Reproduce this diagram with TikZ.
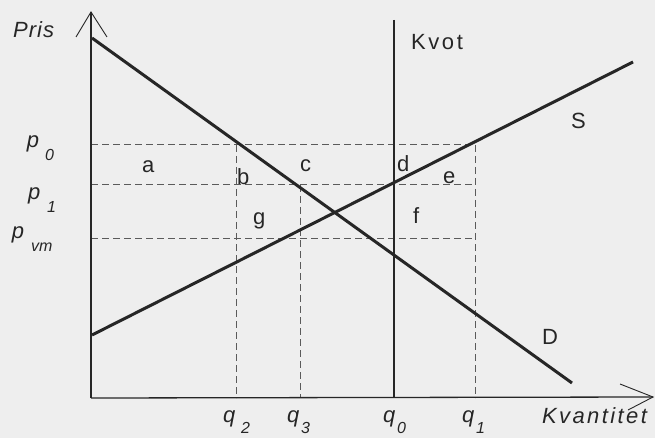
\documentclass[tikz,border=0pt]{standalone}
\usepackage{fontspec}
\setmainfont{Liberation Sans}
\definecolor{ink}{HTML}{262626}
\definecolor{dashc}{HTML}{5A5A5A}
\definecolor{paper}{HTML}{EEEEEE}
\newcommand\sublab[4]{{\itshape #1\hspace{#3}\raisebox{#4}{\fontsize{16}{18}\selectfont #2}}}
\begin{document}
\begin{tikzpicture}[x=1pt,y=-1pt,
  lbl/.style={inner sep=0pt, outer sep=0pt, anchor=base west, text=ink, font=\fontsize{22}{26}\selectfont},
  curve/.style={draw=ink, line width=3pt},
  quota/.style={draw=ink, line width=2.2pt},
  axis/.style={draw=ink, line width=1.3pt},
  barb/.style={draw=ink, line width=0.9pt},
  guide/.style={draw=dashc, line width=1pt, dash pattern=on 7pt off 4pt}]
\fill[paper] (0,0) rectangle (655,438);
\useasboundingbox (0,0) rectangle (655,438);

% coordinates
\coordinate (O) at (91,398);
\coordinate (ytip) at (91,12);
\coordinate (xtip) at (653,397);
\coordinate (yb1) at (76,37);
\coordinate (yb2) at (107,37);
\coordinate (xb1) at (620,384);
\coordinate (xb2) at (628,410);

\coordinate (P0L) at (91,145);  \coordinate (P0R) at (475,145);
\coordinate (P1L) at (91,185);  \coordinate (P1R) at (475,185);
\coordinate (PVL) at (91,238);  \coordinate (PVR) at (475,238);
\coordinate (Q2T) at (236,145); \coordinate (Q2B) at (236,398);
\coordinate (Q3T) at (300,185); \coordinate (Q3B) at (300,398);
\coordinate (Q1T) at (475,145); \coordinate (Q1B) at (475,398);

\coordinate (D1) at (92,38);   \coordinate (D2) at (572,383);
\coordinate (S1) at (92,335);  \coordinate (S2) at (633,62);
\coordinate (K1) at (394,20);  \coordinate (K2) at (394,398);

% guides
\draw[guide] (P0L) -- (P0R);
\draw[guide] (P1L) -- (P1R);
\draw[guide] (PVL) -- (PVR);
\draw[guide] (Q2T) -- (Q2B);
\draw[guide] (Q3T) -- (Q3B);
\draw[guide] (Q1T) -- (Q1B);

% axes
\draw[axis] (O) -- (ytip);
\draw[axis] (O) -- (xtip);
\draw[barb] (yb1) -- (ytip) -- (yb2);
\draw[barb] (xb1) -- (xtip) -- (xb2);

% curves
\draw[curve] (D1) -- (D2);
\draw[curve] (S1) -- (S2);
\draw[quota] (K1) -- (K2);

% labels
\node[lbl] (pris) at (13,38) {\itshape\addfontfeatures{LetterSpace=5}Pris};
\node[lbl] (kvant) at (542,423) {\itshape\addfontfeatures{LetterSpace=11}Kvantitet};
\node[lbl] (kvot) at (411,50) {\addfontfeatures{LetterSpace=12}Kvot};
\node[lbl] (slab) at (571,129) {S};
\node[lbl] (dlab) at (542,344) {D};

\node[lbl] (p0) at (27,147.5) {\sublab{p}{0}{6pt}{-13pt}};
\node[lbl] (p1) at (28,200) {\sublab{p}{1}{7pt}{-13pt}};
\node[lbl] (pvm) at (12,238.5) {\sublab{p}{vm}{7pt}{-13pt}};

\node[lbl] (q2) at (223,422) {\sublab{q}{2}{6pt}{-11pt}};
\node[lbl] (q3) at (287,422) {\sublab{q}{3}{2pt}{-11pt}};
\node[lbl] (q0) at (383,422) {\sublab{q}{0}{2pt}{-11pt}};
\node[lbl] (q1) at (462,422) {\sublab{q}{1}{2pt}{-11pt}};

\node[lbl] (la) at (142,173) {a};
\node[lbl] (lb) at (237,185) {b};
\node[lbl] (lc) at (300,172) {c};
\node[lbl] (ld) at (397,172) {d};
\node[lbl] (le) at (443,184) {e};
\node[lbl] (lf) at (413,223) {f};
\node[lbl] (lg) at (253,224.5) {g};
\end{tikzpicture}
\end{document}
